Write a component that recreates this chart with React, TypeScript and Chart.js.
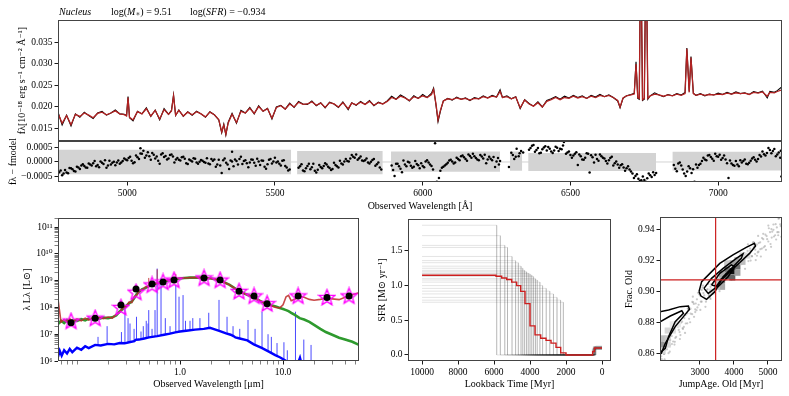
import React, { useEffect, useRef } from 'react';
import { Chart, registerables } from 'chart.js';
Chart.register(...registerables);

const FONT = "'Liberation Serif', 'DejaVu Serif', serif";
const TICK_FONT = { family: FONT, size: 9.5 };
const TITLE_FONT = { family: FONT, size: 10 };

// ---------------- header ----------------
const REGION_NAME = 'Nucleus';
const LOG_MSTAR = 9.51;
const LOG_SFR = -0.934;

// ---------------- spectrum ----------------
const SPEC_X_MIN = 4766;
const SPEC_X_MAX = 7216;
const SPEC_Y_MIN = 0.0121;
const SPEC_Y_MAX = 0.0402;
const SPEC_X_TICKS = [5000, 5500, 6000, 6500, 7000];
const SPEC_Y_TICKS = [0.015, 0.02, 0.025, 0.03, 0.035];
const SPEC_WAVE = [
  4767, 4780, 4795, 4810, 4825, 4840, 4855, 4870, 4885, 4900, 4915, 4930, 4945, 4960, 4975, 4990, 4998, 5003, 5008, 5020,
  5035, 5050, 5065, 5080, 5095, 5110, 5125, 5140, 5150, 5157, 5164, 5175, 5190, 5205, 5220, 5235, 5250, 5265, 5280, 5295,
  5310, 5320, 5327, 5334, 5342, 5355, 5370, 5385, 5400, 5415, 5430, 5445, 5460, 5475, 5490, 5505, 5520, 5535, 5550, 5565,
  5580, 5595, 5610, 5625, 5640, 5655, 5670, 5685, 5700, 5715, 5730, 5748, 5760, 5775, 5790, 5805, 5820, 5835, 5850, 5865,
  5880, 5895, 5910, 5925, 5940, 5955, 5970, 5985, 6000, 6015, 6030, 6037, 6045, 6052, 6060, 6070, 6085, 6100, 6115, 6130,
  6145, 6160, 6175, 6190, 6205, 6220, 6235, 6250, 6262, 6270, 6285, 6300, 6315, 6330, 6345, 6360, 6375, 6390, 6405, 6420,
  6435, 6450, 6465, 6480, 6495, 6510, 6525, 6540, 6555, 6570, 6585, 6600, 6615, 6630, 6645, 6660, 6668, 6678, 6690, 6705,
  6716, 6722, 6728, 6733, 6738, 6744, 6750, 6756, 6762, 6770, 6785, 6800, 6815, 6830, 6845, 6860, 6875, 6888, 6894, 6902,
  6908, 6916, 6925, 6940, 6955, 6970, 6985, 7000, 7015, 7030, 7045, 7060, 7075, 7090, 7105, 7120, 7135, 7150, 7166, 7175,
  7190, 7200, 7216,
];
const SPEC_OBS = [
  .0186, .0158, .0181, .0156, .0184, .0176, .0188, .0180, .0173, .0186, .0190, .0181, .0186, .0193, .0184, .0183, .0180, .0224, .0175, .0168,
  .0190, .0184, .0198, .0178, .0193, .0170, .0196, .0183, .0192, .0228, .0180, .0193, .0178, .0189, .0181, .0190, .0184, .0176, .0189, .0182,
  .0170, .0140, .0160, .0135, .0165, .0185, .0162, .0192, .0186, .0199, .0184, .0203, .0190, .0197, .0172, .0200, .0204, .0195, .0209, .0199,
  .0213, .0207, .0206, .0214, .0203, .0210, .0198, .0211, .0207, .0199, .0212, .0194, .0210, .0204, .0213, .0206, .0215, .0203, .0211, .0207,
  .0214, .0225, .0218, .0228, .0222, .0214, .0226, .0220, .0229, .0222, .0232, .0244, .0205, .0166, .0190, .0214, .0220, .0216, .0223, .0218,
  .0221, .0215, .0222, .0219, .0226, .0221, .0227, .0223, .0240, .0222, .0226, .0219, .0224, .0196, .0217, .0208, .0202, .0212, .0200, .0215,
  .0219, .0224, .0218, .0225, .0221, .0227, .0222, .0226, .0220, .0227, .0223, .0229, .0224, .0228, .0222, .0214, .0198, .0220, .0226, .0229,
  .0232, .0305, .0220, .0218, .0600, .0215, .0218, .0600, .0218, .0226, .0233, .0228, .0224, .0229, .0226, .0231, .0228, .0234, .0337, .0236,
  .0317, .0232, .0227, .0231, .0226, .0230, .0228, .0232, .0229, .0234, .0230, .0235, .0231, .0233, .0229, .0236, .0233, .0237, .0221, .0236,
  .0234, .0238, .0247,
];
const SPEC_MODEL = [
  .0184, .0162, .0180, .0159, .0183, .0178, .0186, .0181, .0175, .0185, .0188, .0182, .0186, .0191, .0184, .0182, .0179, .0222, .0176, .0170,
  .0189, .0184, .0196, .0179, .0192, .0172, .0194, .0183, .0191, .0226, .0181, .0192, .0179, .0188, .0182, .0189, .0184, .0177, .0188, .0182,
  .0171, .0142, .0158, .0137, .0163, .0183, .0164, .0190, .0186, .0197, .0185, .0201, .0190, .0196, .0174, .0199, .0203, .0195, .0207, .0200,
  .0211, .0206, .0207, .0212, .0204, .0209, .0199, .0210, .0207, .0200, .0210, .0196, .0209, .0205, .0211, .0206, .0213, .0204, .0210, .0207,
  .0213, .0222, .0218, .0225, .0221, .0215, .0224, .0220, .0226, .0222, .0229, .0241, .0207, .0170, .0192, .0214, .0219, .0217, .0221, .0218,
  .0220, .0216, .0220, .0219, .0224, .0221, .0225, .0223, .0236, .0222, .0224, .0219, .0223, .0198, .0216, .0207, .0202, .0210, .0200, .0213,
  .0217, .0222, .0217, .0222, .0220, .0225, .0221, .0224, .0220, .0225, .0222, .0227, .0224, .0227, .0222, .0215, .0200, .0221, .0226, .0228,
  .0230, .0300, .0222, .0220, .0600, .0217, .0220, .0600, .0220, .0226, .0230, .0228, .0225, .0228, .0226, .0230, .0227, .0231, .0335, .0234,
  .0315, .0231, .0227, .0230, .0227, .0229, .0228, .0230, .0229, .0232, .0230, .0233, .0231, .0232, .0229, .0234, .0232, .0235, .0225, .0234,
  .0233, .0236, .0240,
];

// ---------------- residuals ----------------
const RES_Y_MIN = -0.00069;
const RES_Y_MAX = 0.000724;
const RES_Y_TICKS = [-0.0005, 0, 0.0005];
const RES_WAVE = [
  4770, 4780, 4790, 4800, 4810, 4820, 4830, 4840, 4850, 4860,
  4870, 4880, 4890, 4900, 4910, 4920, 4930, 4940, 4950, 4960,
  4970, 4980, 4990, 5000, 5010, 5020, 5030, 5040, 5045, 5050,
  5060, 5070, 5080, 5090, 5100, 5110, 5120, 5130, 5140, 5150,
  5160, 5170, 5180, 5190, 5200, 5210, 5220, 5230, 5240, 5250,
  5260, 5270, 5280, 5290, 5300, 5310, 5320, 5330, 5340, 5350,
  5355, 5360, 5370, 5380, 5390, 5400, 5410, 5420, 5430, 5440,
  5450, 5460, 5470, 5480, 5490, 5500, 5510, 5520, 5530, 5540,
  5550, 5580, 5590, 5600, 5610, 5620, 5630, 5640, 5650, 5660,
  5670, 5680, 5690, 5700, 5710, 5720, 5730, 5740, 5750, 5760,
  5770, 5780, 5790, 5800, 5810, 5820, 5830, 5840, 5850, 5860,
  5895, 5905, 5915, 5925, 5935, 5945, 5955, 5965, 5975, 5985,
  5995, 6005, 6015, 6025, 6035, 6042, 6048, 6055, 6065, 6075,
  6085, 6095, 6105, 6115, 6125, 6135, 6145, 6155, 6165, 6175,
  6185, 6195, 6205, 6215, 6225, 6235, 6245, 6255, 6262, 6292,
  6300, 6310, 6318, 6325, 6333, 6360, 6370, 6380, 6390, 6400,
  6410, 6420, 6430, 6440, 6450, 6460, 6470, 6478, 6485, 6495,
  6505, 6515, 6525, 6535, 6545, 6555, 6565, 6575, 6585, 6595,
  6605, 6615, 6625, 6635, 6645, 6655, 6665, 6675, 6685, 6695,
  6705, 6715, 6725, 6735, 6745, 6755, 6765, 6775, 6785, 6850,
  6860, 6870, 6880, 6890, 6900, 6910, 6920, 6930, 6940, 6950,
  6960, 6970, 6980, 6990, 7000, 7010, 7020, 7030, 7035, 7040,
  7050, 7060, 7070, 7080, 7090, 7100, 7110, 7120, 7130, 7140,
  7150, 7160, 7170, 7180, 7190, 7200, 7210, 7214,
];
// residual values in units of 1e-4
const RES_VAL_E4 = [
  -3.5, -4.6, -2.8, -3.9, -2.2, -3.1, -1.6, -2.4, -0.8, -1.9,
  -0.5, -1.2, 0.3, -1.0, 0.2, -0.7, -2.0, 0.4, -0.3, -1.1,
  0.5, -0.2, 1.2, 0.6, 1.8, -0.4, 2.2, 1.0, 4.7, 2.8,
  1.5, 3.4, 0.8, 2.5, 1.9, -0.6, 3.0, 2.1, 1.2, 2.6,
  -0.2, 1.4, 0.5, 1.8, -0.4, 0.9, 0.2, 1.1, -0.6, 0.7,
  0.0, 1.3, -0.8, 0.4, -1.6, 0.8, -3.8, 1.2, -0.9, 0.5,
  3.5, -1.5, 0.3, 1.0, -0.7, 0.6, -1.8, 0.9, -0.3, 1.1,
  -1.0, 0.4, -2.3, 0.8, -0.5, 1.5, 0.2, -1.2, 0.6, -1.9,
  -2.6, -2.0, -0.8, -3.2, -1.4, -2.5, -0.6, -3.6, -1.0, -2.2,
  -0.4, -1.6, -2.8, -0.3, -1.5, 0.4, -0.9, 1.0, 0.2, 2.4,
  1.5, 0.8, 1.9, 0.3, 1.2, -0.5, 0.7, -1.3, -0.2, -2.6,
  -1.2, -4.8, -0.6, -2.3, 0.5, -1.5, -0.2, -2.0, 0.3, -1.1,
  -0.4, -1.8, 0.6, -0.9, -2.6, 6.5, -6.8, -5.5, -2.0, -1.2,
  -0.3, 0.8, -0.5, 1.5, 0.6, 2.2, 1.0, 2.6, 1.5, 2.0,
  0.9, 2.4, 1.2, -0.4, 1.8, 0.6, -1.7, 1.4, 0.3, -1.7,
  3.2, 1.0, 4.6, 2.0, 3.8, 4.2, 5.6, 3.5, 4.8, 3.2,
  5.0, 4.0, 4.6, 3.1, 5.3, 3.8, 4.4, 6.9, 2.8, 3.6,
  1.5, 2.8, -1.0, 2.0, 0.8, 3.0, -3.6, 1.6, 2.5, 0.4,
  2.0, 1.2, -0.5, 1.4, -1.2, 0.2, -2.0, -0.8, -3.0, -1.5,
  -3.3, -5.5, -4.2, -6.5, -5.0, -6.8, -4.0, -5.2, -4.5, -1.0,
  -3.2, -0.2, -2.6, -4.8, -1.5, -3.8, -6.8, -2.0, -0.6, 1.5,
  0.6, 2.4, 1.1, 2.8, 1.8, 0.8, 2.2, -0.4, -5.5, 0.5,
  -1.0, 0.3, -1.5, -0.2, 0.9, -0.8, 0.4, 1.6, 0.2, 2.4,
  3.6, 2.2, 4.8, 3.0, 4.5, 2.6, 1.5, -5.0,
];
const RES_WAVE_B = [
  4775, 4795, 4815, 4835, 4855, 4875, 4895, 4915, 4935, 4955, 4975, 4995, 5015, 5035, 5055, 5075, 5095, 5115, 5135, 5155,
  5175, 5195, 5215, 5235, 5255, 5275, 5295, 5315, 5335, 5355, 5375, 5395, 5415, 5435, 5455, 5475, 5495, 5515, 5535,
  5585, 5605, 5625, 5645, 5665, 5685, 5705, 5725, 5745, 5765, 5785, 5805, 5825, 5845,
  5900, 5920, 5940, 5960, 5980, 6000, 6020, 6060, 6080, 6100, 6120, 6140, 6160, 6180, 6200, 6220, 6240, 6258,
  6305, 6328, 6365, 6385, 6405, 6425, 6445, 6465, 6490, 6510, 6530, 6550, 6570, 6590, 6610, 6630, 6650, 6670,
  6690, 6710, 6730, 6750, 6770, 6790,
  6855, 6875, 6895, 6915, 6935, 6955, 6975, 6995, 7015, 7045, 7065, 7085, 7105, 7125, 7145, 7165, 7185, 7205,
];
const RES_VAL_B_E4 = [
  -2.9, -3.6, -2.5, -1.9, -1.4, -0.9, -1.5, -0.3, -1.2, 0.1, -0.6, 0.9, 0.4, 1.6, 3.9, 2.0, 1.2, 2.6, 0.9, 1.9,
  0.8, 1.1, 0.5, -0.2, 0.4, -0.5, 0.9, -1.2, -0.3, 0.2, -0.9, 0.3, -0.2, -1.3, 0.5, -0.8, 0.2, -0.6, -1.4,
  -1.5, -2.2, -1.8, -2.7, -1.4, -2.1, -1.0, -0.5, 0.3, 1.8, 1.3, 0.6, 0.1, -0.8,
  -2.8, -1.5, -0.9, -1.3, -0.7, -1.4, -0.2, -3.0, -0.8, 0.2, 1.0, 1.6, 2.1, 1.4, 1.9, 0.9, 1.7, -0.9,
  2.4, 3.0, 4.8, 4.1, 4.4, 5.2, 4.0, 4.6, 3.3, 2.2, 2.6, 1.5, 2.3, 1.0, 1.5, 0.6, -0.4, -1.1,
  -2.2, -4.0, -5.8, -6.2, -4.6, -3.8,
  -2.3, -1.2, -3.3, -2.5, -1.0, 0.9, 1.7, 2.0, 1.4, -0.5, -0.9, 0.3, -0.3, 0.8, 1.9, 3.1, 3.8, 3.3,
];
const RES_WAVE_C = [
  4785, 4805, 4825, 4845, 4865, 4885, 4905, 4925, 4945, 4965, 4985, 5005, 5025, 5045, 5065, 5085, 5105, 5125, 5145, 5165,
  5185, 5205, 5225, 5245, 5265, 5285, 5305, 5325, 5345, 5365, 5385, 5405, 5425, 5445, 5465, 5485, 5505, 5525, 5545,
  5595, 5615, 5635, 5655, 5675, 5695, 5715, 5735, 5755, 5775, 5795, 5815, 5835, 5855,
  5910, 5930, 5950, 5970, 5990, 6010, 6030, 6070, 6090, 6110, 6130, 6150, 6170, 6190, 6210, 6230, 6250,
  6315, 6340, 6375, 6395, 6415, 6435, 6455, 6475, 6500, 6520, 6540, 6560, 6580, 6600, 6620, 6640, 6660, 6680, 6700, 6720,
  6740, 6760, 6780,
  6865, 6885, 6905, 6925, 6945, 6965, 6985, 7005, 7025, 7055, 7075, 7095, 7115, 7135, 7155, 7175, 7195, 7212,
];
const RES_VAL_C_E4 = [
  -4.0, -2.1, -3.3, -1.2, -2.0, -0.4, -1.8, 0.6, -0.9, -0.2, 0.3, 1.4, -0.1, 2.9, 2.2, 3.1, 0.4, 1.7, 2.4, 0.9,
  1.6, -0.7, 1.3, 0.1, -0.3, 1.0, -0.9, 0.6, -2.4, 0.9, 1.8, -0.4, 0.8, 0.2, -1.6, 1.0, -0.2, 0.4, -2.9,
  -2.9, -0.6, -3.0, -1.7, -0.9, -2.4, -1.9, 0.2, 1.2, 2.6, 0.5, -0.2, 1.0, -1.9,
  -0.6, -3.5, 0.1, -1.6, -2.2, 0.2, -1.4, -1.6, 0.5, -0.2, 2.0, 0.4, 2.8, 0.6, 2.5, 1.1, 0.2,
  1.8, 3.3, 5.9, 3.0, 5.4, 3.6, 4.9, 5.7, 2.4, 3.4, 0.9, 2.8, -0.2, 2.6, 0.3, 1.8, -0.9, -1.9, -2.6, -4.8,
  -6.3, -5.6, -3.5,
  -0.5, -4.0, -2.2, -0.9, 0.3, 2.2, 0.4, 2.5, 0.9, -1.3, 0.6, -0.6, 1.2, 1.0, 2.7, 4.1, 2.0, 3.9,
];
const BAND_START = [4767, 5575, 5893, 6295, 6357, 6845];
const BAND_END = [5555, 5865, 6262, 6337, 6790, 7216];
const BAND_TOP = [0.00042, 0.00038, 0.00036, 0.00036, 0.00031, 0.00035];
const BAND_BOTTOM = [-0.00042, -0.00042, -0.00034, -0.0003, -0.00031, -0.00029];

// ---------------- SED ----------------
const SED_X_MIN = 0.0654;
const SED_X_MAX = 54.6;
const SED_Y_MIN = 1e6;
const SED_Y_MAX = 2.17e11;
const SED_X_TICKS = [0.07, 0.08, 0.09, 0.1, 0.2, 0.3, 0.4, 0.5, 0.6, 0.7, 0.8, 0.9, 1, 2, 3, 4, 5, 6, 7, 8, 9, 10, 20, 30, 40, 50];
const SED_X_MAJOR = [1, 10];
const SED_X_LABELS = ['1.0', '10.0'];
const SED_Y_TICKS = [
  1e6, 2e6, 3e6, 4e6, 5e6, 6e6, 7e6, 8e6, 9e6, 1e7, 2e7, 3e7, 4e7, 5e7, 6e7, 7e7, 8e7, 9e7,
  1e8, 2e8, 3e8, 4e8, 5e8, 6e8, 7e8, 8e8, 9e8, 1e9, 2e9, 3e9, 4e9, 5e9, 6e9, 7e9, 8e9, 9e9,
  1e10, 2e10, 3e10, 4e10, 5e10, 6e10, 7e10, 8e10, 9e10, 1e11, 2e11,
];
const SED_Y_MAJOR = [1e6, 1e7, 1e8, 1e9, 1e10, 1e11];
const SED_Y_LABELS = ['10⁶', '10⁷', '10⁸', '10⁹', '10¹⁰', '10¹¹'];
const SED_WAVE = [
  0.0654, 0.07, 0.075, 0.08, 0.085, 0.09, 0.1, 0.11, 0.12, 0.13,
  0.14, 0.15, 0.165, 0.18, 0.2, 0.22, 0.24, 0.26, 0.28, 0.3,
  0.32, 0.34, 0.36, 0.38, 0.4, 0.43, 0.46, 0.5, 0.55, 0.6,
  0.65, 0.7, 0.76, 0.82, 0.9, 1.0, 1.1, 1.25, 1.4, 1.6,
  1.8, 2.0, 2.2, 2.45, 2.7, 3.0, 3.3, 3.6, 4.0, 4.5,
  5.0, 5.6, 6.3, 7.0, 7.8, 8.5, 9.3, 10.0, 10.7, 11.3,
  12.0, 13.0, 14.5, 16.0, 18.0, 20.0, 23.0, 26.0, 30.0, 35.0,
  40.0, 47.0, 54.6,
];
// log10 of lambda L_lambda [Lsun]
const SED_STELLAR_LOG = [
  7.38, 7.5, 7.42, 7.53, 7.45, 7.52, 7.5, 7.56, 7.52, 7.58,
  7.55, 7.6, 7.58, 7.62, 7.6, 7.63, 7.7, 7.85, 7.95, 8.05,
  8.15, 8.22, 8.35, 8.5, 8.58, 8.68, 8.72, 8.8, 8.86, 8.9,
  8.94, 8.97, 9.0, 9.03, 9.06, 9.08, 9.1, 9.11, 9.11, 9.11,
  9.1, 9.08, 9.05, 9.0, 8.93, 8.85, 8.75, 8.65, 8.55, 8.47,
  8.4, 8.3, 8.2, 8.14, 8.07, 8.03, 7.98, 7.94, 7.9, 7.86,
  7.8, 7.72, 7.6, 7.55, 7.46, 7.35, 7.2, 7.08, 6.98, 6.87,
  6.8, 6.72, 6.6,
];
const SED_TOTAL_LOG = [
  8.3, 7.45, 7.55, 7.46, 7.58, 7.48, 7.57, 7.5, 7.6, 7.53,
  7.62, 7.56, 7.64, 7.58, 7.64, 7.6, 7.74, 7.82, 8.0, 8.02,
  8.2, 8.18, 8.4, 8.46, 8.62, 8.65, 8.76, 8.78, 8.88, 8.9,
  8.95, 8.98, 9.01, 9.04, 9.07, 9.09, 9.1, 9.11, 9.11, 9.11,
  9.1, 9.08, 9.05, 9.0, 8.93, 8.85, 8.75, 8.65, 8.55, 8.47,
  8.4, 8.3, 8.2, 8.14, 8.05, 8.0, 7.98, 8.1, 8.4, 8.45,
  8.25, 8.3, 8.42, 8.38, 8.3, 8.27, 8.3, 8.34, 8.32, 8.29,
  8.38, 8.47, 8.55,
];
const TOTAL_LINE_WAVE = [0.497, 0.6, 0.91];
const TOTAL_LINE_BASE_LOG = [8.78, 8.9, 9.07];
const TOTAL_LINE_PEAK_LOG = [9.1, 9.42, 9.25];
const YOUNG_WAVE = [
  0.0654, 0.068, 0.071, 0.075, 0.08, 0.085, 0.09, 0.1, 0.11, 0.12, 0.13, 0.15, 0.17, 0.2, 0.23, 0.26, 0.29, 0.32, 0.36, 0.37,
  0.4, 0.45, 0.5, 0.6, 0.7, 0.8, 0.9, 1.0, 1.2, 1.4, 1.7, 1.95, 2.1, 2.4, 2.8, 3.1, 3.3, 3.45, 3.8, 4.5,
  5.2, 6.2, 7.2, 8.4, 9.4, 10.7, 11.5, 12.5, 13.6, 14.6, 15.6, 20, 54.6,
];
const YOUNG_LOG = [
  6.15, 6.38, 6.2, 6.4, 6.28, 6.45, 6.33, 6.5, 6.42, 6.55, 6.48, 6.6, 6.58, 6.64, 6.62, 6.67, 6.66, 6.7, 6.74, 6.79,
  6.8, 6.84, 6.88, 6.93, 6.98, 7.02, 7.07, 7.1, 7.14, 7.17, 7.2, 7.24, 7.2, 7.12, 7.03, 6.98, 6.93, 6.88, 6.84, 6.77,
  6.62, 6.49, 6.36, 6.22, 6.13, 6.0, 5.85, 5.7, 5.8, 6.12, 5.7, 5.4, 5.0,
];
const YOUNG_LINE_WAVE = [
  0.16, 0.196, 0.27, 0.292, 0.313, 0.327, 0.358, 0.378, 0.418, 0.44, 0.47, 0.489, 0.497, 0.535, 0.572, 0.6, 0.654, 0.72,
  0.8, 0.91, 0.978, 1.07, 1.13, 1.25, 1.33, 1.56, 1.9, 2.39, 2.86, 3.27, 3.8, 4.57, 5.35, 6.25, 7.15, 7.7, 8.74, 10.2,
  11.0, 13.2, 15.9, 18.7,
];
const YOUNG_LINE_BASE_LOG = [
  6.6, 6.62, 6.67, 6.66, 6.69, 6.7, 6.74, 6.79, 6.81, 6.83, 6.86, 6.87, 6.87, 6.9, 6.91, 6.93, 6.95, 6.98,
  7.02, 7.07, 7.09, 7.12, 7.13, 7.14, 7.16, 7.19, 7.23, 7.12, 7.03, 6.93, 6.84, 6.76, 6.6, 6.49, 6.36, 6.3, 6.2, 6.05,
  5.9, 5.75, 5.6, 5.45,
];
const YOUNG_LINE_PEAK_LOG = [
  6.9, 7.3, 7.08, 7.98, 7.6, 7.4, 7.2, 7.65, 7.1, 7.3, 7.5, 7.4, 7.9, 7.2, 7.9, 9.45, 9.1, 7.6,
  7.3, 8.84, 8.4, 8.46, 7.5, 7.5, 7.6, 7.6, 7.8, 8.28, 7.65, 7.3, 7.2, 7.53, 7.2, 7.84, 7.0, 6.9, 6.67, 6.7,
  6.4, 7.84, 6.8, 6.6,
];
const PHOT_WAVE = [0.0875, 0.15, 0.267, 0.374, 0.535, 0.684, 0.875, 1.71, 2.45, 3.74, 5.23, 7.0, 14.0, 26.7, 43.7];
const PHOT_MODEL_LOG = [7.49, 7.6, 8.0, 8.57, 8.84, 8.95, 9.02, 9.1, 9.02, 8.6, 8.43, 8.14, 8.43, 8.37, 8.43];
const PHOT_OBS_LOG = [7.43, 7.6, 8.09, 8.69, 8.87, 8.95, 9.02, 9.1, 9.02, 8.6, 8.43, 8.14, 8.43, 8.37, 8.43];

// ---------------- SFH ----------------
const SFH_X_MIN = -500;
const SFH_X_MAX = 10780;
const SFH_Y_MIN = -0.087;
const SFH_Y_MAX = 1.96;
const SFH_X_TICKS = [0, 2000, 4000, 6000, 8000, 10000];
const SFH_Y_TICKS = [0, 0.5, 1.0, 1.5];
const SFH_T_START = 10000;
const SFH_MED_T = [10000, 5889, 5574, 5296, 5019, 4741, 4519, 4278, 4000, 3722, 3407, 3111, 2833, 2556, 2296, 2000, 519, 420, 0];
const SFH_MED_V = [1.15, 1.135, 1.11, 1.087, 1.05, 1.0, 0.917, 0.74, 0.42, 0.29, 0.24, 0.21, 0.17, 0.11, 0.03, 0.0, 0.05, 0.1, 0.1];
const SAMPLE_LEVEL = [1.87, 1.72, 1.58, 1.55, 1.42, 1.36, 1.33, 1.28, 1.25, 1.22, 1.2, 1.18, 1.17, 1.15, 1.13, 1.1, 1.08, 1.05, 1.0, 0.96, 0.92, 0.88, 0.83, 0.79, 0.76];
const SAMPLE_JUMP = [5850, 5650, 5400, 5250, 5000, 4800, 4650, 4500, 4400, 4300, 4200, 4100, 4000, 3900, 3800, 3700, 3600, 3450, 3300, 3100, 2900, 2700, 2500, 2300, 2150];
const SAMPLE_YOUNG_START = [520, 480, 450, 430, 400, 380, 350, 500, 470, 440, 410, 390, 360, 330, 540, 460, 420, 400, 370, 350, 490, 450, 430, 380, 340];
const SAMPLE_YOUNG_SFR = [0.08, 0.1, 0.12, 0.09, 0.11, 0.1, 0.13, 0.09, 0.11, 0.1, 0.12, 0.08, 0.1, 0.11, 0.09, 0.12, 0.1, 0.11, 0.09, 0.1, 0.12, 0.08, 0.11, 0.1, 0.09];

// ---------------- corner ----------------
const COR_X_MIN = 1824;
const COR_X_MAX = 5412;
const COR_Y_MIN = 0.8555;
const COR_Y_MAX = 0.9477;
const COR_X_TICKS = [3000, 4000, 5000];
const COR_Y_TICKS = [0.86, 0.88, 0.9, 0.92, 0.94];
const MEDIAN_JUMP_AGE = 3460;
const MEDIAN_FRAC_OLD = 0.9075;
const SCATTER_AGE = [
  1860, 1900, 1940, 1990, 2030, 2080, 2120, 2170, 2210, 2260, 2300, 2350, 2400, 2440, 2490, 2540, 2580, 2630, 2680, 2720,
  2770, 2820, 2860, 2910, 2960, 3000, 3050, 3100, 3150, 3200, 3260, 3310, 3360, 4480, 4530, 4580, 4620, 4670, 4720, 4770,
  4820, 4860, 4910, 4960, 5010, 5060, 5110, 5160, 5210, 5260, 5310, 5360, 5420, 5470, 5530, 5580, 2250, 2650, 3050, 2900,
  4700, 5100, 4400, 3300, 2100, 2500, 5300, 4600, 1950, 2800,
];
const SCATTER_FRAC = [
  0.8585, 0.8635, 0.86, 0.8665, 0.863, 0.8695, 0.8655, 0.8715, 0.868, 0.8745, 0.871, 0.8775, 0.874, 0.88, 0.8765, 0.883, 0.8795, 0.886, 0.8825, 0.889,
  0.8855, 0.892, 0.8885, 0.895, 0.8915, 0.8975, 0.8935, 0.899, 0.8955, 0.901, 0.8975, 0.903, 0.9, 0.926, 0.9225, 0.9285, 0.924, 0.93, 0.9255, 0.9315,
  0.9275, 0.9335, 0.929, 0.9355, 0.932, 0.938, 0.9345, 0.9395, 0.936, 0.941, 0.938, 0.943, 0.9395, 0.945, 0.942, 0.9465, 0.866, 0.889, 0.901, 0.888,
  0.925, 0.94, 0.926, 0.896, 0.871, 0.876, 0.936, 0.93, 0.86, 0.893,
];
const SCATTER_AGE_B = [
  1875, 1925, 1975, 2025, 2075, 2125, 2175, 2225, 2275, 2325, 2375, 2425, 2475, 2525, 2575, 2625, 2675, 2725, 2775, 2825,
  2875, 2925, 2975, 3025, 3075, 3125, 3175, 3225, 3275, 3325, 3375, 3425, 3475, 3525, 3575, 3625, 3675, 3725, 3775, 3825,
  3875, 3925, 3975, 4025, 4075, 4125, 4175, 4225, 4275, 4325, 4375, 4425, 4475, 4525, 4575, 4625, 4675, 4725, 4775, 4825,
  4875, 4925, 4975, 5025, 5075, 5125, 5175, 5225, 5275, 5325, 5375, 5425, 5475, 5525, 5575,
];
const SCATTER_FRAC_B = [
  0.8567, 0.8652, 0.8626, 0.8701, 0.8605, 0.8689, 0.8664, 0.8748, 0.8703, 0.8798, 0.8754, 0.8721, 0.8807, 0.8773, 0.8849, 0.8796, 0.8882, 0.8858, 0.8933, 0.8838,
  0.8923, 0.8898, 0.8983, 0.8935, 0.9025, 0.8975, 0.8935, 0.9015, 0.8975, 0.9045, 0.8985, 0.9065, 0.9034, 0.9103, 0.9002, 0.9081, 0.905, 0.9129, 0.9078, 0.9167,
  0.9116, 0.9075, 0.9155, 0.9115, 0.9185, 0.9125, 0.9205, 0.9175, 0.9245, 0.9145, 0.9225, 0.9195, 0.9275, 0.9226, 0.9317, 0.9268, 0.9229, 0.931, 0.9271, 0.9342,
  0.9283, 0.9364, 0.9335, 0.9405, 0.9304, 0.9383, 0.9352, 0.9431, 0.938, 0.9469, 0.9418, 0.9377, 0.9456, 0.9415, 0.947,
];
const SCATTER_AGE_C = [
  1890, 1960, 2040, 2110, 2190, 2260, 2340, 2410, 2490, 2560, 2640, 2710, 2790, 2860, 2940, 3010, 3090, 3160, 3240, 3310,
  4410, 4490, 4560, 4640, 4710, 4790, 4860, 4940, 5010, 5090, 5160, 5240, 5310, 5390,
];
const SCATTER_FRAC_C = [
  0.8682, 0.8565, 0.8705, 0.8615, 0.8778, 0.8678, 0.8803, 0.8696, 0.8862, 0.8735, 0.8891, 0.8803, 0.8967, 0.8868, 0.8992, 0.8882, 0.9038, 0.8902, 0.9048, 0.8952,
  0.9302, 0.9198, 0.9313, 0.9201, 0.9356, 0.9224, 0.9369, 0.9267, 0.9422, 0.9286, 0.9429, 0.9333, 0.9466, 0.935,
];
const CELL_AGE = [3950, 3800, 4100, 3650, 3800, 3950, 4100, 3650, 3500, 4250, 3500, 3950, 4250, 4400, 3350, 3800, 4100, 3650, 1900, 1900, 2050, 2050, 2200, 2050, 1900, 2200, 2350];
const CELL_FRAC = [0.913, 0.91, 0.916, 0.907, 0.914, 0.909, 0.92, 0.903, 0.903, 0.919, 0.907, 0.918, 0.923, 0.923, 0.9, 0.918, 0.912, 0.911, 0.866, 0.87, 0.87, 0.866, 0.875, 0.875, 0.862, 0.879, 0.879];
const CELL_SHADE = [15, 90, 110, 130, 120, 100, 170, 170, 190, 190, 200, 160, 215, 222, 222, 200, 160, 170, 150, 190, 200, 215, 222, 215, 210, 232, 232];
const CONTOURS_AGE = [
  [2971, 3049, 3292, 3583, 3971, 4360, 4603, 4632, 4458, 4166, 3875, 3632, 3437, 3194, 3029, 2971],
  [3117, 3340, 3680, 4069, 4263, 4215, 3971, 3680, 3437, 3243, 3117],
  [3340, 3583, 3923, 4020, 3826, 3534, 3340],
  [1780, 2076, 2417, 2660, 2690, 2514, 2271, 1980, 1863, 1780],
  [1780, 2126, 2465, 2514, 2271, 2076, 1980, 1863, 1780],
];
const CONTOURS_FRAC = [
  [0.8999, 0.9063, 0.9116, 0.918, 0.9234, 0.9283, 0.9308, 0.9291, 0.9244, 0.9184, 0.9127, 0.9074, 0.8999, 0.895, 0.8971, 0.8999],
  [0.902, 0.9084, 0.9148, 0.9212, 0.924, 0.9212, 0.9159, 0.9095, 0.902, 0.8988, 0.902],
  [0.9042, 0.9116, 0.917, 0.9159, 0.9095, 0.9031, 0.9042],
  [0.8868, 0.8882, 0.8903, 0.8907, 0.8886, 0.8839, 0.8775, 0.8668, 0.8604, 0.859],
  [0.88, 0.8843, 0.8877, 0.886, 0.8807, 0.8711, 0.8636, 0.8615, 0.86],
];

// ---------------- helpers ----------------
const near = (a: number, b: number) => Math.abs(a - b) <= 1e-9 * Math.max(Math.abs(a), Math.abs(b), 1e-12);

function mkScale(o: any): any {
  const majors: number[] | undefined = o.major;
  return {
    type: o.type || 'linear',
    display: o.display === undefined ? true : o.display,
    position: o.axis === 'x' ? 'bottom' : 'left',
    min: o.min,
    max: o.max,
    reverse: !!o.reverse,
    bounds: 'data',
    afterBuildTicks: (s: any) => {
      s.ticks = o.ticks.map((v: number) => ({ value: v }));
    },
    afterFit: (s: any) => {
      if (o.axis === 'x') s.height = o.size;
      else s.width = o.size;
    },
    grid: {
      display: true,
      drawOnChartArea: false,
      drawTicks: true,
      tickLength: 3.5,
      tickColor: '#000',
      tickWidth: (c: any) => {
        if (!majors) return 0.9;
        const v = c.tick ? c.tick.value : NaN;
        return majors.some((m) => near(m, v)) ? 0.9 : 0.5;
      },
    },
    border: { display: false },
    ticks: {
      autoSkip: false,
      maxRotation: 0,
      minRotation: 0,
      padding: 2,
      color: '#000',
      font: TICK_FONT,
      callback: (v: any) => o.label(Number(v)),
    },
    title: o.title
      ? { display: true, text: o.title, color: '#000', font: TITLE_FONT, padding: 0 }
      : { display: false },
  };
}

const framePlugin = {
  id: 'frame',
  afterDraw(chart: any) {
    const { ctx, chartArea: a } = chart;
    ctx.save();
    ctx.strokeStyle = '#444';
    ctx.lineWidth = 1;
    ctx.strokeRect(Math.round(a.left) + 0.5, Math.round(a.top) + 0.5, Math.round(a.right - a.left) - 1, Math.round(a.bottom - a.top) - 1);
    ctx.restore();
  },
};

function drawRich(ctx: any, x: number, y: number, segs: any[], size = 10) {
  let cx = x;
  for (const s of segs) {
    const fs = s.sub ? size * 0.72 : size;
    ctx.font = `${s.it ? 'italic ' : ''}${fs}px ${FONT}`;
    ctx.fillText(s.t, cx, y + (s.sub ? 2.5 : 0));
    cx += ctx.measureText(s.t).width;
  }
}

const specTitlePlugin = {
  id: 'specTitle',
  afterDraw(chart: any) {
    const ctx = chart.ctx;
    ctx.save();
    ctx.fillStyle = '#000';
    ctx.textBaseline = 'middle';
    ctx.textAlign = 'left';
    drawRich(ctx, 43, 12, [{ t: REGION_NAME, it: true }]);
    drawRich(ctx, 95, 12, [{ t: 'log(' }, { t: 'M', it: true }, { t: '∗', sub: true }, { t: ') = ' + LOG_MSTAR.toFixed(2) }]);
    drawRich(ctx, 174, 12, [{ t: 'log(' }, { t: 'SFR', it: true }, { t: ') = ' + (LOG_SFR < 0 ? '−' : '') + Math.abs(LOG_SFR).toFixed(3) }]);
    ctx.restore();
  },
};

function baseOptions(pad: any, scales: any): any {
  return {
    responsive: false,
    maintainAspectRatio: false,
    animation: false,
    devicePixelRatio: 1,
    events: [],
    layout: { padding: pad },
    plugins: { legend: { display: false }, tooltip: { enabled: false }, title: { display: false } },
    scales,
    elements: { point: { radius: 0 }, line: { tension: 0 } },
  };
}

const lookupLabel = (majors: number[], labels: string[]) => (v: number) => {
  const i = majors.findIndex((m) => near(m, v));
  return i >= 0 ? labels[i] : '';
};
const pow10 = (v: number) => Math.pow(10, v);

function makeStar(): HTMLCanvasElement {
  const c = document.createElement('canvas');
  c.width = 19;
  c.height = 19;
  const g = c.getContext('2d')!;
  g.beginPath();
  for (let i = 0; i < 10; i++) {
    const r = i % 2 === 0 ? 8.3 : 3.6;
    const a = -Math.PI / 2 + (i * Math.PI) / 5;
    const px = 9.5 + r * Math.cos(a);
    const py = 10 + r * Math.sin(a);
    if (i === 0) g.moveTo(px, py);
    else g.lineTo(px, py);
  }
  g.closePath();
  g.strokeStyle = '#ff00ff';
  g.lineWidth = 1.4;
  g.stroke();
  return c;
}

// ---------------- chart configs ----------------
function specConfig(): any {
  return {
    type: 'line',
    data: {
      datasets: [
        { data: SPEC_WAVE.map((x, i) => ({ x, y: SPEC_MODEL[i] })), borderColor: '#b22222', borderWidth: 1.3, pointRadius: 0, order: 0 },
        { data: SPEC_WAVE.map((x, i) => ({ x, y: SPEC_OBS[i] })), borderColor: '#000', borderWidth: 1.1, pointRadius: 0, order: 1 },
      ],
    },
    options: baseOptions(
      { left: 0, top: 20, right: 7, bottom: 10 },
      {
        x: mkScale({ axis: 'x', min: SPEC_X_MIN, max: SPEC_X_MAX, ticks: SPEC_X_TICKS, label: () => '', size: 0, display: false }),
        y: mkScale({
          axis: 'y', min: SPEC_Y_MIN, max: SPEC_Y_MAX, ticks: SPEC_Y_TICKS, size: 42,
          label: (v: number) => v.toFixed(3),
          title: 'fλ[10⁻¹⁸ erg s⁻¹ cm⁻² Å⁻¹]',
        }),
      },
    ),
    plugins: [framePlugin, specTitlePlugin],
  };
}

function resConfig(): any {
  const bands = BAND_START.map((s, i) => ({
    data: [{ x: s, y: BAND_TOP[i] }, { x: BAND_END[i], y: BAND_TOP[i] }],
    borderWidth: 0,
    pointRadius: 0,
    backgroundColor: '#d3d3d3',
    fill: { value: BAND_BOTTOM[i] },
    order: 3,
  }));
  const dot = { showLine: false, pointRadius: 1.25, pointBackgroundColor: '#000', pointBorderWidth: 0, order: 0 };
  return {
    type: 'line',
    data: {
      datasets: [
        ...bands,
        { data: [{ x: SPEC_X_MIN, y: 0 }, { x: SPEC_X_MAX, y: 0 }], borderColor: '#d3d3d3', borderWidth: 1, pointRadius: 0, order: 2 },
        { data: RES_WAVE.map((x, i) => ({ x, y: RES_VAL_E4[i] * 1e-4 })), ...dot },
        { data: RES_WAVE_B.map((x, i) => ({ x, y: RES_VAL_B_E4[i] * 1e-4 })), ...dot },
        { data: RES_WAVE_C.map((x, i) => ({ x, y: RES_VAL_C_E4[i] * 1e-4 })), ...dot },
      ],
    },
    options: baseOptions(
      { left: 0, top: 10, right: 7, bottom: 0 },
      {
        x: mkScale({
          axis: 'x', min: SPEC_X_MIN, max: SPEC_X_MAX, ticks: SPEC_X_TICKS, size: 30,
          label: (v: number) => String(v), title: 'Observed Wavelength [Å]',
        }),
        y: mkScale({
          axis: 'y', min: RES_Y_MIN, max: RES_Y_MAX, ticks: RES_Y_TICKS, size: 51,
          label: (v: number) => (v < 0 ? '−' : '') + Math.abs(v).toFixed(4),
          title: 'fλ − fmodel',
        }),
      },
    ),
    plugins: [framePlugin],
  };
}

function sedConfig(): any {
  const star = makeStar();
  const lines = (w: number[], b: number[], p: number[]) =>
    w.flatMap((x, i) => [{ x, y: pow10(b[i]) }, { x, y: pow10(p[i]) }, { x, y: null }]);
  return {
    type: 'line',
    data: {
      datasets: [
        { data: lines(YOUNG_LINE_WAVE, YOUNG_LINE_BASE_LOG, YOUNG_LINE_PEAK_LOG), borderColor: '#4a4aff', borderWidth: 1, pointRadius: 0, spanGaps: false, order: 8 },
        { data: YOUNG_WAVE.map((x, i) => ({ x, y: pow10(YOUNG_LOG[i]) })), borderColor: '#0000ff', borderWidth: 2.4, pointRadius: 0, order: 7 },
        { data: SED_WAVE.map((x, i) => ({ x, y: pow10(SED_STELLAR_LOG[i]) })), borderColor: '#2e9a2e', borderWidth: 2.6, pointRadius: 0, order: 5 },
        { data: SED_WAVE.map((x, i) => ({ x, y: pow10(SED_TOTAL_LOG[i]) })), borderColor: 'rgba(190,40,40,0.85)', borderWidth: 1.6, pointRadius: 0, order: 4 },
        { data: lines(TOTAL_LINE_WAVE, TOTAL_LINE_BASE_LOG, TOTAL_LINE_PEAK_LOG), borderColor: 'rgba(190,40,40,0.85)', borderWidth: 1, pointRadius: 0, spanGaps: false, order: 3 },
        { data: PHOT_WAVE.map((x, i) => ({ x, y: pow10(PHOT_MODEL_LOG[i]) })), showLine: false, pointStyle: star, pointRadius: 9, order: 1 },
        { data: PHOT_WAVE.map((x, i) => ({ x, y: pow10(PHOT_OBS_LOG[i]) })), showLine: false, pointStyle: 'circle', pointRadius: 3.5, pointBackgroundColor: '#000', pointBorderColor: '#000', pointBorderWidth: 0, order: 0 },
      ],
    },
    options: baseOptions(
      { left: 0, top: 12, right: 12, bottom: 0 },
      {
        x: mkScale({
          axis: 'x', type: 'logarithmic', min: SED_X_MIN, max: SED_X_MAX, ticks: SED_X_TICKS, major: SED_X_MAJOR, size: 29,
          label: lookupLabel(SED_X_MAJOR, SED_X_LABELS), title: 'Observed Wavelength [μm]',
        }),
        y: mkScale({
          axis: 'y', type: 'logarithmic', min: SED_Y_MIN, max: SED_Y_MAX, ticks: SED_Y_TICKS, major: SED_Y_MAJOR, size: 37,
          label: lookupLabel(SED_Y_MAJOR, SED_Y_LABELS), title: 'λ Lλ [L⊙]',
        }),
      },
    ),
    plugins: [framePlugin],
  };
}

function sfhConfig(): any {
  const samples = SAMPLE_LEVEL.map((lv, i) => ({
    data: [
      { x: SFH_T_START, y: lv }, { x: SAMPLE_JUMP[i], y: lv }, { x: SAMPLE_JUMP[i], y: 0 },
      { x: SAMPLE_YOUNG_START[i], y: 0 }, { x: SAMPLE_YOUNG_START[i], y: SAMPLE_YOUNG_SFR[i] }, { x: 0, y: SAMPLE_YOUNG_SFR[i] },
    ],
    borderColor: 'rgba(0,0,0,0.11)',
    borderWidth: 1,
    pointRadius: 0,
    order: 2,
  }));
  return {
    type: 'line',
    data: {
      datasets: [
        ...samples,
        { data: SFH_MED_T.map((x, i) => ({ x, y: SFH_MED_V[i] })), stepped: 'before', borderColor: '#cc1f1f', borderWidth: 1.4, pointRadius: 0, order: 0 },
      ],
    },
    options: baseOptions(
      { left: 0, top: 12, right: 12, bottom: 0 },
      {
        x: mkScale({
          axis: 'x', min: SFH_X_MIN, max: SFH_X_MAX, reverse: true, ticks: SFH_X_TICKS, size: 29,
          label: (v: number) => String(v), title: 'Lookback Time [Myr]',
        }),
        y: mkScale({
          axis: 'y', min: SFH_Y_MIN, max: SFH_Y_MAX, ticks: SFH_Y_TICKS, size: 32,
          label: (v: number) => v.toFixed(1), title: 'SFR [M⊙ yr⁻¹]',
        }),
      },
    ),
    plugins: [framePlugin],
  };
}

function cornerConfig(): any {
  const contours = CONTOURS_AGE.map((xs, k) => ({
    data: xs.map((x, i) => ({ x, y: CONTOURS_FRAC[k][i] })),
    borderColor: '#000',
    borderWidth: 1.5,
    pointRadius: 0,
    order: 2,
  }));
  const scat = { showLine: false, pointRadius: 1.1, pointBackgroundColor: 'rgba(150,150,150,0.5)', pointBorderWidth: 0, order: 5 };
  return {
    type: 'line',
    data: {
      datasets: [
        { data: SCATTER_AGE.map((x, i) => ({ x, y: SCATTER_FRAC[i] })), ...scat },
        { data: SCATTER_AGE_B.map((x, i) => ({ x, y: SCATTER_FRAC_B[i] })), ...scat },
        { data: SCATTER_AGE_C.map((x, i) => ({ x, y: SCATTER_FRAC_C[i] })), ...scat },
        {
          data: CELL_AGE.map((x, i) => ({ x, y: CELL_FRAC[i] })), showLine: false, pointStyle: 'rect', pointRadius: 4.3,
          pointBackgroundColor: CELL_SHADE.map((s) => `rgb(${s},${s},${s})`), pointBorderWidth: 0, order: 4,
        },
        ...contours,
        { data: [{ x: MEDIAN_JUMP_AGE, y: COR_Y_MIN }, { x: MEDIAN_JUMP_AGE, y: COR_Y_MAX }], borderColor: '#cc1f1f', borderWidth: 1.2, pointRadius: 0, order: 0 },
        { data: [{ x: COR_X_MIN, y: MEDIAN_FRAC_OLD }, { x: COR_X_MAX, y: MEDIAN_FRAC_OLD }], borderColor: '#cc1f1f', borderWidth: 1.2, pointRadius: 0, order: 0 },
      ],
    },
    options: baseOptions(
      { left: 0, top: 12, right: 7, bottom: 0 },
      {
        x: mkScale({
          axis: 'x', min: COR_X_MIN, max: COR_X_MAX, ticks: COR_X_TICKS, size: 29,
          label: (v: number) => String(v), title: 'JumpAge. Old [Myr]',
        }),
        y: mkScale({
          axis: 'y', min: COR_Y_MIN, max: COR_Y_MAX, ticks: COR_Y_TICKS, size: 37,
          label: (v: number) => v.toFixed(2), title: 'Frac. Old',
        }),
      },
    ),
    plugins: [framePlugin],
  };
}

function Panel(props: { left: number; top: number; width: number; height: number; make: () => any }) {
  const ref = useRef<HTMLCanvasElement>(null);
  useEffect(() => {
    const chart = new Chart(ref.current as HTMLCanvasElement, props.make());
    return () => chart.destroy();
  }, []);
  return (
    <canvas
      ref={ref}
      width={props.width}
      height={props.height}
      style={{ position: 'absolute', left: props.left, top: props.top, width: props.width, height: props.height }}
    />
  );
}

export default function App() {
  Chart.defaults.font.family = FONT;
  return (
    <div style={{ position: 'fixed', left: 0, top: 0, width: 789, height: 396, background: '#fff', overflow: 'hidden' }}>
      <Panel left={7} top={131} width={782} height={81} make={resConfig} />
      <Panel left={16} top={0} width={773} height={151} make={specConfig} />
      <Panel left={21} top={206} width={350} height={184} make={sedConfig} />
      <Panel left={376} top={207} width={247} height={183} make={sfhConfig} />
      <Panel left={623} top={205} width={166} height={185} make={cornerConfig} />
    </div>
  );
}
